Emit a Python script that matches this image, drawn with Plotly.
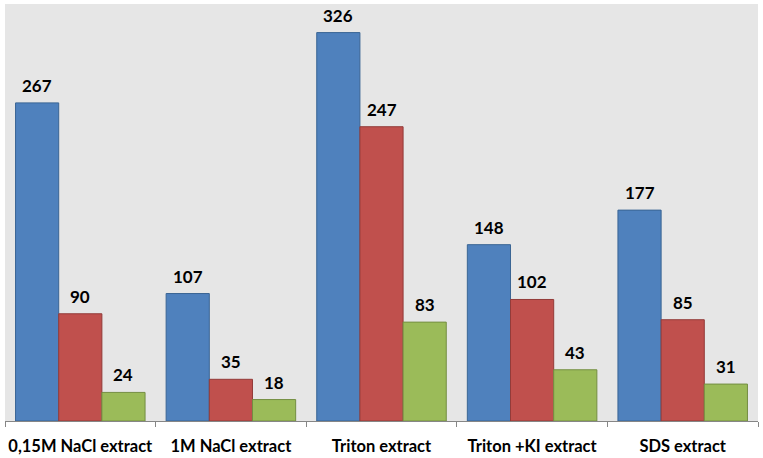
import plotly.graph_objects as go

categories = ["0,15M NaCl extract", "1M NaCl extract", "Triton extract",
              "Triton +KI extract", "SDS extract"]
series_blue = [267, 107, 326, 148, 177]
series_red = [90, 35, 247, 102, 85]
series_green = [24, 18, 83, 43, 31]

FONT = "Lato, Open Sans, sans-serif"
BARGAP = 0.14

series = [
    (series_blue, "#4F81BD", "#3A6594"),
    (series_red, "#C0504D", "#933B39"),
    (series_green, "#9BBB59", "#748E42"),
]

fig = go.Figure()
for vals, fill, edge in series:
    fig.add_bar(x=categories, y=vals, marker=dict(color=fill, line=dict(color=edge, width=1)))

# value labels above bars (Excel-like gap)
w = (1 - BARGAP) / len(series)
for i, (vals, _, _) in enumerate(series):
    for c, v in enumerate(vals):
        fig.add_annotation(x=c + (i - 1) * w, y=v, text=f"<b>{v}</b>", showarrow=False,
                           yanchor="bottom", yshift=5, xref="x", yref="y",
                           font=dict(family=FONT, size=17, color="black"))

fig.update_layout(
    width=763, height=458,
    margin=dict(l=5, r=5, t=4, b=37, autoexpand=False),
    paper_bgcolor="white", plot_bgcolor="#E6E6E6",
    barmode="group", bargap=BARGAP, bargroupgap=0,
    showlegend=False,
    font=dict(family=FONT, size=17, color="black"),
)
fig.update_xaxes(showline=True, linecolor="#868686", linewidth=1,
                 ticks="outside", tickson="boundaries", ticklen=5, tickcolor="#868686",
                 tickangle=0, automargin=False, ticklabelstandoff=10,
                 tickfont=dict(family=FONT, size=16.5, color="black"),
                 tickprefix="<b>", ticksuffix="</b>")
fig.update_yaxes(range=[0, 350], visible=False, showgrid=False)

fig.write_html("out.html", config={"displayModeBar": False},
               post_script="document.body.style.margin='0';")
